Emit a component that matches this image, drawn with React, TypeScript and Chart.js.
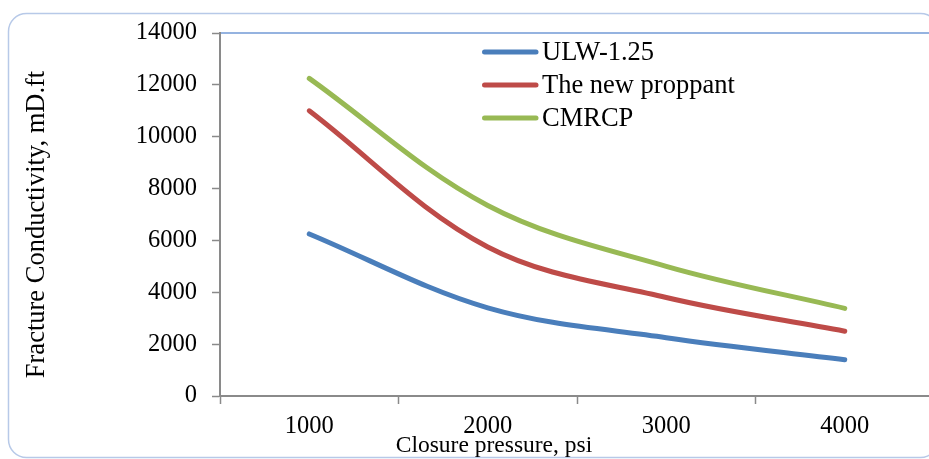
import React, { useEffect, useRef } from "react";
import { Chart, registerables } from "chart.js";

Chart.register(...registerables);

// ---- data ----
const categories = ["1000", "2000", "3000", "4000"];
const ulwValues = [6250, 3400, 2250, 1400];
const newProppantValues = [11000, 5750, 3800, 2500];
const cmrcpValues = [12250, 7350, 5000, 3380];
const seriesNames = ["ULW-1.25", "The new proppant", "CMRCP"];
const seriesColors = ["#4A7EBB", "#BE4B48", "#98B954"];
const yMin = 0;
const yMax = 14000;
const yStep = 2000;
const xTitle = "Closure pressure, psi";
const yTitle = "Fracture Conductivity, mD.ft";

const FONT = "'Liberation Serif', 'Times New Roman', serif";
const AXIS_GRAY = "#8A8A8A";

const framePlugin = {
  id: "frame",
  beforeDraw(chart: any) {
    const ctx = chart.ctx;
    ctx.save();
    ctx.fillStyle = "#ffffff";
    ctx.fillRect(0, 0, chart.width, chart.height);
    const x = 8.5, y = 13.5, w = 930, h = 444, r = 18;
    ctx.beginPath();
    ctx.moveTo(x + r, y);
    ctx.lineTo(x + w - r, y);
    ctx.arcTo(x + w, y, x + w, y + r, r);
    ctx.lineTo(x + w, y + h - r);
    ctx.arcTo(x + w, y + h, x + w - r, y + h, r);
    ctx.lineTo(x + r, y + h);
    ctx.arcTo(x, y + h, x, y + h - r, r);
    ctx.lineTo(x, y + r);
    ctx.arcTo(x, y, x + r, y, r);
    ctx.closePath();
    ctx.strokeStyle = "#B7C9E8";
    ctx.lineWidth = 1.5;
    ctx.stroke();
    ctx.restore();
  },
  afterDraw(chart: any) {
    const ctx = chart.ctx;
    const area = chart.chartArea;
    ctx.save();
    ctx.strokeStyle = "#95B3E0";
    ctx.lineWidth = 2;
    ctx.beginPath();
    ctx.moveTo(area.left + 1, area.top);
    ctx.lineTo(chart.width, area.top);
    ctx.stroke();
    ctx.restore();
  },
};

// Axis titles placed where the original chart has them (x title is off-centre)
const axisTitlePlugin = {
  id: "axisTitles",
  afterDraw(chart: any) {
    const ctx = chart.ctx;
    const area = chart.chartArea;
    ctx.save();
    ctx.fillStyle = "#000000";
    ctx.textAlign = "center";
    ctx.textBaseline = "middle";
    ctx.font = `23.5px ${FONT}`;
    ctx.fillText(xTitle, area.left + 274, area.bottom + 50);
    ctx.translate(37, (area.top + area.bottom) / 2 + 10);
    ctx.rotate(-Math.PI / 2);
    ctx.font = `26.5px ${FONT}`;
    ctx.fillText(yTitle, 0, 0);
    ctx.restore();
  },
};

const legendPlugin = {
  id: "customLegend",
  afterDraw(chart: any) {
    const ctx = chart.ctx;
    const area = chart.chartArea;
    const lineStart = area.left + 264.5;
    const lineEnd = area.left + 316;
    const textX = area.left + 322;
    const rowTop = area.top + 19;
    const rowGap = 33;
    ctx.save();
    chart.data.datasets.forEach((ds: any, i: number) => {
      const y = rowTop + i * rowGap;
      ctx.strokeStyle = ds.borderColor;
      ctx.lineWidth = 5;
      ctx.lineCap = "round";
      ctx.beginPath();
      ctx.moveTo(lineStart, y);
      ctx.lineTo(lineEnd, y);
      ctx.stroke();
      ctx.fillStyle = "#000000";
      ctx.font = `26.5px ${FONT}`;
      ctx.textBaseline = "middle";
      ctx.textAlign = "left";
      ctx.fillText(ds.label, textX, y + 1);
    });
    ctx.restore();
  },
};

export default function App() {
  const canvasRef = useRef<HTMLCanvasElement | null>(null);

  useEffect(() => {
    const canvas = canvasRef.current;
    if (!canvas) return;
    const seriesValues = [ulwValues, newProppantValues, cmrcpValues];
    const chart = new Chart(canvas, {
      type: "line",
      data: {
        labels: categories,
        datasets: seriesValues.map((vals, i) => ({
          label: seriesNames[i],
          data: vals,
          borderColor: seriesColors[i],
          backgroundColor: seriesColors[i],
          borderWidth: 5,
          borderCapStyle: "round",
          borderJoinStyle: "round",
          pointRadius: 0,
          pointHoverRadius: 0,
          tension: 0.35,
          fill: false,
        })),
      },
      options: {
        responsive: false,
        animation: false,
        devicePixelRatio: 1,
        layout: { padding: { top: 33, right: 26, left: 0, bottom: 0 } },
        plugins: {
          legend: { display: false },
          tooltip: { enabled: false },
        },
        scales: {
          x: {
            type: "category",
            offset: true,
            grid: {
              offset: true,
              drawOnChartArea: false,
              drawTicks: true,
              tickLength: 8,
              color: AXIS_GRAY,
              tickWidth: 1.5,
            },
            border: { display: true, color: AXIS_GRAY, width: 2 },
            ticks: {
              color: "#000000",
              font: { family: FONT, size: 24.5 },
              padding: 8,
              maxRotation: 0,
              autoSkip: false,
            },
            title: { display: false, text: xTitle },
            afterFit(scale: any) {
              scale.height = 63;
            },
          },
          y: {
            type: "linear",
            min: yMin,
            max: yMax,
            grid: {
              drawOnChartArea: false,
              drawTicks: true,
              tickLength: 8,
              color: AXIS_GRAY,
              tickWidth: 1.5,
            },
            border: { display: true, color: AXIS_GRAY, width: 2 },
            ticks: {
              stepSize: yStep,
              color: "#000000",
              font: { family: FONT, size: 24.5 },
              padding: 15,
              callback: (v: any) => String(v),
            },
            title: { display: false, text: yTitle },
            afterFit(scale: any) {
              scale.width = 220;
            },
          },
        },
      },
      plugins: [framePlugin, axisTitlePlugin, legendPlugin],
    });
    return () => chart.destroy();
  }, []);

  return (
    <div
      style={{
        position: "fixed",
        left: 0,
        top: 0,
        width: 929,
        height: 459,
        overflow: "hidden",
        background: "#ffffff",
      }}
    >
      <canvas ref={canvasRef} width={960} height={459} style={{ display: "block" }} />
    </div>
  );
}
